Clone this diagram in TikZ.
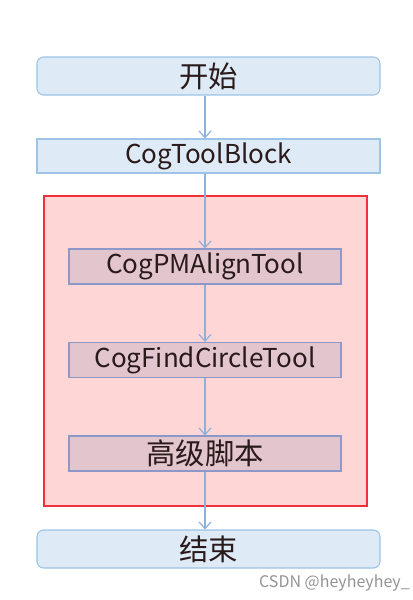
\documentclass[tikz,border=0pt]{standalone}
\usepackage{fontspec}
\setmainfont{Noto Sans CJK SC}
\usetikzlibrary{arrows.meta}
\definecolor{boxblue}{HTML}{DEEAF6}
\definecolor{lineblue}{HTML}{9DC3E6}
\definecolor{arrowblue}{HTML}{8DB0DC}
\definecolor{grpfill}{HTML}{FFD6D6}
\definecolor{grpline}{HTML}{F0303A}
\definecolor{toolfill}{HTML}{E2C5CD}
\definecolor{toolline}{HTML}{8E98C8}
\definecolor{inktext}{HTML}{2A1A1A}
\tikzset{
  latinfont/.style={font=\fontsize{19.5}{22}\selectfont},
  cjkfont/.style={font=\fontsize{22}{25}\selectfont},
  endbox/.style={draw=lineblue, line width=0.8pt, fill=boxblue, rounded corners=5pt, minimum width=257.25pt, minimum height=28.5pt, inner sep=0pt, text=inktext, cjkfont},
  blockbox/.style={draw=lineblue, line width=0.8pt, fill=boxblue, minimum width=257.25pt, minimum height=25.5pt, inner sep=0pt, text=inktext, latinfont},
  toolbox/.style={draw=toolline, line width=0.8pt, fill=toolfill, minimum width=204pt, minimum height=26.25pt, inner sep=0pt, text=inktext, latinfont},
  arr/.style={draw=arrowblue, line width=0.9pt, -{Straight Barb[length=5pt,width=9pt]}}
}
\begin{document}
\begin{tikzpicture}[x=0.75pt,y=-0.75pt]
  \useasboundingbox (0,0) rectangle (412,600);
  % group of tools
  \node[draw=grpline, line width=0.8pt, fill=grpfill, minimum width=242.25pt, minimum height=232.5pt, inner sep=0pt] (group) at (205.5,351) {};
  \node[endbox] (start) at (208.5,76) {开始};
  \node[blockbox] (block) at (208.5,156) {CogToolBlock};
  \node[toolbox] (pm) at (205,266.5) {CogPMAlignTool};
  \node[toolbox] (circle) at (205,360) {CogFindCircleTool};
  \node[toolbox, cjkfont] (script) at (205,453.5) {高级脚本};
  \node[endbox] (stop) at (208.5,549) {结束};
  % connectors
  \draw[arr] (start.south -| pm.north) -- (block.north -| pm.north);
  \draw[arr] (block.south -| pm.north) -- (pm.north);
  \draw[arr] (pm.south) -- (circle.north);
  \draw[arr] (circle.south) -- (script.north);
  \draw[arr] (script.south) -- (stop.north -| script.south);
  % watermark
  \node[text=gray!85, font=\fontsize{12}{14}\selectfont, anchor=east, inner sep=0pt] (mark) at (410,583) {CSDN @heyheyhey\_};
\end{tikzpicture}
\end{document}
